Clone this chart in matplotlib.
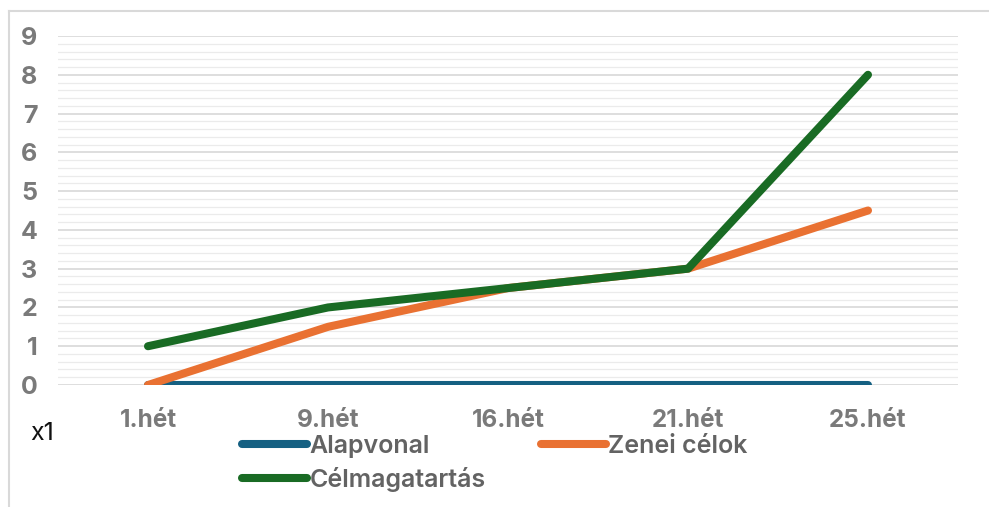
import matplotlib
matplotlib.use("Agg")
import matplotlib.pyplot as plt
from matplotlib.lines import Line2D
from matplotlib.ticker import MultipleLocator

categories = ["1.hét", "9.hét", "16.hét", "21.hét", "25.hét"]
alapvonal = [0, 0, 0, 0, 0]
zenei_celok = [0, 1.5, 2.5, 3, 4.5]
celmagatartas = [1, 2, 2.5, 3, 8]

BLUE = "#156082"
ORANGE = "#E97132"
GREEN = "#196B24"
TICK_GRAY = "#7a7a7a"

plt.rcParams["font.family"] = ["Inter", "DejaVu Sans"]

fig = plt.figure(figsize=(9.89, 5.07), dpi=100)
ax = fig.add_axes([58 / 989, 1 - 385 / 507, 900 / 989, 349 / 507])

x = range(len(categories))
lw = 5.8
ax.plot(x, alapvonal, color=BLUE, lw=lw, solid_capstyle="round",
        solid_joinstyle="round", label="Alapvonal", zorder=3)
ax.plot(x, zenei_celok, color=ORANGE, lw=lw, solid_capstyle="round",
        solid_joinstyle="round", label="Zenei célok", zorder=4)
ax.plot(x, celmagatartas, color=GREEN, lw=lw, solid_capstyle="round",
        solid_joinstyle="round", label="Célmagatartás", zorder=5)

ax.set_xlim(-0.5, len(categories) - 0.5)
ax.set_ylim(0, 9)
ax.set_xticks(list(x))
ax.set_xticklabels(categories)
ax.yaxis.set_major_locator(MultipleLocator(1))
ax.yaxis.set_minor_locator(MultipleLocator(0.2))
ax.grid(which="major", axis="y", color="#d4d4d4", lw=1.1, zorder=1)
ax.grid(which="minor", axis="y", color="#ebebeb", lw=0.9, zorder=1)
ax.tick_params(axis="both", which="both", length=0)
ax.tick_params(axis="y", pad=15, labelsize=18, labelcolor=TICK_GRAY)
ax.tick_params(axis="x", pad=17, labelsize=17.5, labelcolor=TICK_GRAY)
for lab in ax.get_xticklabels() + ax.get_yticklabels():
    lab.set_fontweight("bold")
for spine in ax.spines.values():
    spine.set_visible(False)

fig.text(30 / 989, 1 - 433 / 507, "x1", fontsize=18, color="#111111",
         ha="left", va="center")

leg_handles = [
    Line2D([], [], color=BLUE, lw=lw, solid_capstyle="round"),
    Line2D([], [], color=GREEN, lw=lw, solid_capstyle="round"),
    Line2D([], [], color=ORANGE, lw=lw, solid_capstyle="round"),
]
leg = fig.legend(leg_handles, ["Alapvonal", "Célmagatartás", "Zenei célok"],
                 ncol=2, loc="upper left", bbox_to_anchor=(242 / 989, 1 - 435 / 507),
                 frameon=False, handlelength=2.6, handletextpad=0.1,
                 columnspacing=2.2, labelspacing=0.35, borderpad=0, borderaxespad=0,
                 labelcolor="#636363", prop={"weight": "semibold", "size": 18})

# chart frame (top and left edges visible in the crop)
fig.add_artist(Line2D([9 / 989, 1], [1 - 11 / 507, 1 - 11 / 507],
                      color="#d9d9d9", lw=1.5, transform=fig.transFigure))
fig.add_artist(Line2D([9 / 989, 9 / 989], [0, 1 - 11 / 507],
                      color="#d9d9d9", lw=1.5, transform=fig.transFigure))

fig.savefig("out.png", dpi=100, facecolor="white")
